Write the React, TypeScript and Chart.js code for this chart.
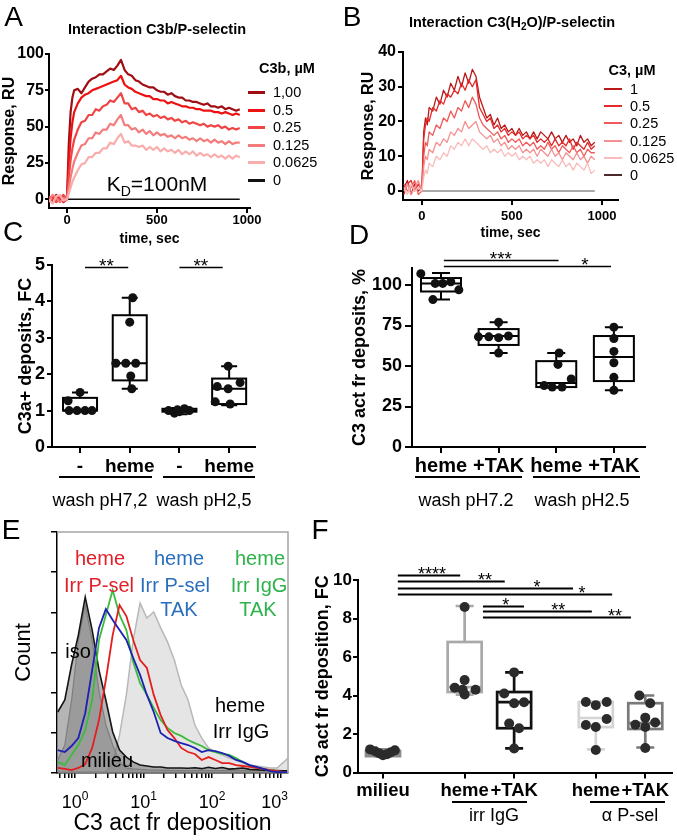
import React, { useEffect, useRef } from 'react';
import { Chart, registerables } from 'chart.js';

Chart.register(...registerables);

const FONT = '"Liberation Sans", Arial, Helvetica, sans-serif';
Chart.defaults.font.family = FONT;
Chart.defaults.color = '#000';

// ---------------- Panel A data (SPR, C3b) ----------------
const A_TIME = [-100, -80, -60, -40, -20, 0, 10, 20, 30, 40, 60, 80, 100, 120, 140, 160, 180, 200, 220, 240, 260, 280, 300, 320, 340, 360, 380, 400, 420, 440, 460, 480, 500, 520, 540, 560, 580, 600, 620, 640, 660, 680, 700, 720, 740, 760, 780, 800, 820, 840, 860, 880, 900, 920, 940, 960];
const A_LABELS = ['1,00', '0.5', '0.25', '0.125', '0.0625', '0'];
const A_C100 = [1, -2, 3, -1, 2, 0, 38, 60, 70, 75, 76, 73, 77, 81, 83, 84, 86, 86, 88, 90, 89, 92, 96, 89, 86, 85, 82, 81, 79, 78, 77, 77, 75, 74, 74, 72, 73, 71, 70, 70, 68, 68, 67, 67, 66, 65, 66, 64, 64, 63, 64, 62, 63, 62, 61, 62];
const A_C050 = [-1, 2, 0, 2, -2, 0, 25, 42, 53, 60, 66, 70, 72, 73, 75, 76, 77, 78, 79, 80, 81, 82, 85, 79, 77, 76, 74, 73, 72, 71, 71, 69, 69, 68, 68, 66, 67, 66, 65, 64, 64, 63, 63, 62, 62, 61, 61, 61, 60, 60, 59, 60, 59, 58, 59, 58];
const A_C025 = [2, 0, -2, 1, 3, 0, 15, 27, 35, 41, 48, 53, 54, 58, 58, 62, 61, 64, 65, 68, 67, 70, 73, 66, 66, 62, 63, 60, 61, 58, 59, 57, 58, 56, 57, 55, 56, 54, 55, 53, 54, 52, 53, 52, 51, 52, 50, 51, 50, 51, 49, 50, 48, 49, 48, 49];
const A_C0125 = [-2, 3, 1, -2, 1, 0, 8, 15, 21, 26, 32, 37, 38, 42, 42, 46, 45, 48, 48, 52, 51, 55, 58, 51, 51, 48, 49, 46, 48, 45, 47, 44, 46, 44, 45, 43, 44, 42, 44, 42, 43, 41, 42, 40, 42, 40, 41, 39, 41, 39, 40, 38, 40, 38, 39, 39];
const A_C0625 = [0, -3, 2, 3, -1, 0, 4, 8, 12, 15, 20, 24, 25, 29, 29, 32, 32, 35, 35, 39, 38, 42, 45, 39, 40, 37, 37, 36, 37, 34, 36, 34, 36, 33, 35, 33, 34, 32, 34, 31, 33, 31, 33, 30, 32, 30, 31, 29, 31, 29, 30, 28, 30, 28, 30, 29];
const A_ZERO_TIME = [0, 960];
const A_ZERO_VALUE = [0, 0];
const A_SERIES = [A_C100, A_C050, A_C025, A_C0125, A_C0625];
const A_COLORS = ['#a00d12', '#ee1111', '#f04545', '#f47c7c', '#f9adad', '#111111'];
const A_X_TICKS = [0, 500, 1000];
const A_Y_TICKS = [0, 25, 50, 75, 100];

// ---------------- Panel B data (SPR, C3(H2O)) ----------------
const B_TIME = [-100, -80, -60, -40, -20, 0, 10, 20, 30, 40, 60, 80, 100, 120, 140, 160, 180, 200, 220, 240, 260, 280, 300, 320, 340, 360, 380, 400, 420, 440, 460, 480, 500, 520, 540, 560, 580, 600, 620, 640, 660, 680, 700, 720, 740, 760, 780, 800, 820, 840, 860, 880, 900, 920, 940, 960];
const B_LABELS = ['1', '0.5', '0.25', '0.125', '0.0625', '0'];
const B_C1 = [1, 3, -1, 2, 0, 1, 17, 21, 19, 24, 23, 27, 25, 29, 27, 31, 29, 33, 30, 34, 31, 35, 33, 27, 24, 21, 22, 19, 21, 18, 19, 17, 18, 16, 18, 16, 17, 15, 17, 15, 17, 16, 15, 17, 15, 16, 14, 16, 14, 15, 13, 16, 14, 15, 13, 14];
const B_C05 = [-1, 2, 3, 0, 2, 0, 15, 19, 21, 20, 24, 23, 26, 25, 28, 27, 29, 28, 31, 29, 32, 30, 32, 24, 22, 20, 21, 18, 19, 17, 18, 16, 17, 16, 17, 15, 16, 15, 16, 14, 15, 14, 15, 13, 15, 13, 14, 13, 15, 12, 14, 13, 12, 14, 12, 13];
const B_C025 = [2, 0, 1, 3, -1, 0, 10, 14, 13, 17, 16, 19, 18, 21, 20, 23, 21, 24, 23, 26, 24, 27, 25, 21, 19, 18, 17, 16, 17, 15, 16, 14, 15, 14, 15, 13, 14, 13, 14, 12, 13, 12, 14, 12, 13, 11, 13, 12, 11, 13, 11, 12, 10, 12, 11, 11];
const B_C0125 = [0, 2, -1, 1, 3, 0, 7, 10, 9, 12, 11, 14, 13, 15, 14, 17, 16, 18, 17, 20, 18, 19, 20, 17, 16, 15, 16, 14, 15, 13, 14, 12, 13, 12, 13, 11, 12, 11, 12, 10, 12, 11, 10, 12, 10, 11, 9, 11, 10, 9, 11, 9, 10, 8, 10, 9];
const B_C00625 = [1, -1, 2, 0, 1, 0, 4, 6, 5, 8, 7, 10, 9, 11, 10, 13, 12, 14, 13, 15, 13, 15, 14, 13, 12, 13, 11, 12, 11, 12, 10, 11, 10, 11, 9, 10, 9, 10, 8, 9, 8, 9, 7, 9, 8, 7, 9, 7, 8, 6, 8, 7, 6, 8, 5, 6];
const B_ZERO_TIME = [0, 960];
const B_ZERO_VALUE = [0, 0];
const B_SERIES = [B_C1, B_C05, B_C025, B_C0125, B_C00625];
const B_COLORS = ['#b81a1a', '#e42a2a', '#ef5a5a', '#f49090', '#f9bcbc', '#a9a9a9'];
const B_LEGEND_COLORS = ['#b81a1a', '#e42a2a', '#ef5a5a', '#f49090', '#f9bcbc', '#4a2a2a'];
const B_X_TICKS = [0, 500, 1000];
const B_Y_TICKS = [0, 10, 20, 30, 40];

// ---------------- Panel C data (box plot) ----------------
const C_CATEGORIES = ['-', 'heme', '-', 'heme'];
const C_POS = [1, 2, 3, 4];
const C_VALUES = [
  [1.27, 1.5, 1.0, 1.0, 1.0, 1.0],
  [4.1, 3.43, 2.3, 2.3, 2.3, 1.95, 1.6],
  [1.0, 0.93, 0.97, 1.05, 1.0, 1.02],
  [2.22, 1.77, 1.66, 1.6, 1.24, 1.18],
];
const C_JITTER = [
  [-0.24, 0, -0.22, -0.06, 0.1, 0.24],
  [0.06, 0, -0.28, -0.08, 0.12, 0.02, 0.04],
  [-0.22, -0.1, 0, 0.1, 0.2, -0.04],
  [-0.02, 0.22, -0.24, -0.02, -0.28, 0.02],
];
// [min, q1, median, q3, max]
const C_BOXES = [
  [1.0, 1.0, 1.0, 1.35, 1.5],
  [1.6, 1.83, 2.3, 3.62, 4.1],
  [0.9, 0.97, 1.0, 1.05, 1.07],
  [1.15, 1.18, 1.6, 1.88, 2.22],
];
const C_Y_TICKS = [0, 1, 2, 3, 4, 5];
// [from, to, y, labelAt, text]
const C_SIG: [number, number, number, number, string][] = [
  [1.1, 1.97, 4.95, 1.53, '**'],
  [3.0, 3.87, 4.95, 3.43, '**'],
];

// ---------------- Panel D data (box plot) ----------------
const D_CATEGORIES = ['heme', '+TAK', 'heme', '+TAK'];
const D_POS = [1, 2, 3, 4];
const D_VALUES = [
  [107, 101, 101, 102, 97, 91],
  [77, 68, 68, 67.5, 68.5, 58],
  [58, 51, 42, 38, 37, 37],
  [74, 67, 59, 52, 43, 35],
];
const D_JITTER = [
  [-0.35, -0.1, 0.03, 0.17, 0.31, -0.14],
  [0, -0.35, -0.17, 0, 0.17, 0],
  [0.05, 0.03, 0.26, -0.21, -0.07, 0.1],
  [0, 0, 0, 0, 0, 0],
];
const D_BOXES = [
  [91, 96, 101, 104.3, 107.4],
  [58, 63, 68.5, 72.8, 77],
  [36.6, 37, 39.5, 53, 58],
  [35, 40.7, 55.6, 68.5, 74],
];
const D_Y_TICKS = [0, 25, 50, 75, 100];
const D_SIG: [number, number, number, number, string][] = [
  [1.05, 3.04, 115.4, 2.04, '***'],
  [1.05, 3.95, 111.7, 3.5, '*'],
];

// ---------------- Panel E data (flow histograms) ----------------
const E_X = [0.56, 0.71, 0.89, 1.12, 1.41, 1.78, 2.24, 2.82, 3.55, 4.47, 5.62, 7.08, 8.91, 11.2, 14.1, 17.8, 22.4, 28.2, 35.5, 44.7, 56.2, 70.8, 89.1, 112, 141, 178, 224, 282, 355, 447, 562, 708, 891, 1122, 1259];
const E_MILIEU = [25.3, 30.3, 44.8, 57.3, 73, 59.3, 42.7, 30.3, 17, 9.5, 6.6, 4.6, 3.3, 2.9, 2.5, 2.5, 2.1, 2.1, 2.1, 2, 2.2, 1.8, 2.4, 1.9, 2.3, 1.6, 1.8, 2.1, 1.5, 1.4, 1.2, 1.1, 1.0, 0.9, 0.9];
const E_ISO = [5.4, 11.6, 30, 55, 69.7, 55, 34, 20, 11.6, 4.6, 2, 1.7, 1.5, 1.3, 1.2, 1.2, 1.1, 1, 1, 1, 1, 1, 1, 1, 1, 1, 1, 1, 1, 1, 1, 1, 1, 1, 1];
const E_IGG = [0.4, 0.4, 0.4, 0.4, 0.4, 0.4, 0.4, 0.4, 4.1, 15.8, 32.4, 55.2, 70.5, 64.3, 66.8, 60.2, 54.4, 46.9, 36.5, 30.3, 19.9, 14.5, 10.4, 8.7, 7.5, 6.2, 5.4, 4.1, 3.3, 2.9, 2.5, 2.1, 2.1, 4.6, 6];
const E_RED = [2.1, 1.7, 1.2, 2.1, 3.7, 10.4, 22, 38.6, 57.3, 69.7, 65.1, 55.2, 46.9, 43.6, 32.4, 24, 17.8, 14.5, 10.4, 8.7, 7.9, 5.4, 6.6, 5.4, 4.1, 4.1, 3.3, 2.9, 2.5, 2.1, 1.7, 1.2, 0.8, 0.4, 0.4];
const E_BLUE = [9.5, 8.7, 11.2, 14.5, 24.9, 42.7, 60.2, 68, 63.5, 59.3, 55.2, 47.7, 40.7, 32.4, 25.3, 16.6, 14.5, 13.3, 12.4, 11.6, 10.4, 8.7, 9.5, 9.1, 8.3, 7.1, 5.4, 4.6, 3.3, 2.5, 1.7, 0.8, 0.4, 0.4, 0.4];
const E_GREEN = [4.6, 3.3, 7.5, 11.6, 17.8, 30.3, 55.2, 65.6, 75.9, 65.6, 59.3, 46, 37.3, 32.4, 27, 22, 18.7, 16.6, 15.4, 13.7, 12.4, 11.2, 9.5, 8.7, 7.9, 7.5, 6.2, 4.6, 2.9, 2.1, 1.7, 1.2, 0.8, 0.4, 0.4];
const E_DECADES = [0, 1, 2, 3];
const E_COUNT_TICKS = [0, 16.67, 33.33, 50, 66.67, 83.33, 100];

// ---------------- Panel F data (box plot) ----------------
const F_CATEGORIES = ['milieu', 'heme', '+TAK', 'heme', '+TAK'];
const F_POS = [0, 1.65, 2.65, 4.3, 5.3];
const F_VALUES = [
  [1.2, 1.1, 1.0, 0.9, 0.95, 1.05, 1.15],
  [8.6, 4.8, 4.4, 4.3, 4.3, 4.05],
  [5.2, 4.1, 3.6, 3.65, 2.55, 2.3, 1.25],
  [3.66, 3.5, 3.66, 2.78, 2.47, 2.36, 1.17],
  [4.0, 3.6, 2.85, 2.48, 2.6, 2.36, 1.27],
];
const F_JITTER = [
  [-0.26, -0.16, -0.08, 0, 0.08, 0.16, 0.24],
  [0, 0, -0.2, -0.04, 0.22, 0],
  [0, -0.2, 0, 0.2, -0.1, 0.1, 0],
  [-0.2, 0, 0.22, 0.22, -0.2, 0, 0],
  [-0.12, 0.1, 0, -0.2, 0.2, 0, 0],
];
const F_BOXES = [
  [0.85, 0.85, 0.95, 1.12, 1.2],
  [4.05, 4.18, 4.44, 6.78, 8.65],
  [1.25, 2.3, 3.66, 4.18, 5.2],
  [1.2, 2.36, 2.83, 3.66, 3.66],
  [1.3, 2.26, 2.57, 3.6, 4.0],
];
const F_Y_TICKS = [0, 2, 4, 6, 8, 10];
const F_SIG: [number, number, number, number, string][] = [
  [0.3, 1.56, 10.26, 0.99, '****'],
  [0.3, 2.46, 9.95, 2.06, '**'],
  [0.3, 3.84, 9.58, 3.11, '*'],
  [0.3, 4.63, 9.27, 4.02, '*'],
  [2.02, 2.85, 8.65, 2.48, '*'],
  [2.02, 4.22, 8.39, 3.54, '**'],
  [2.02, 5.01, 8.08, 4.69, '**'],
];

// ---------------- helpers ----------------
const font = (size: number, bold = false) => ({ family: FONT, size, weight: bold ? 'bold' : 'normal', lineHeight: 1.2 });
const fixWidth = (w: number) => (s: any) => { s.width = w; };
const fixHeight = (h: number) => (s: any) => { s.height = h; };
const useTicks = (vals: number[]) => (s: any) => { s.ticks = vals.map((v) => ({ value: v })); };

const baseOptions = (padding: any) => ({
  responsive: false,
  animation: false,
  devicePixelRatio: 1,
  events: [],
  layout: { padding },
  plugins: { legend: { display: false }, tooltip: { enabled: false }, title: { display: false } },
});

const axisStyle = (tickLen: number, lw: number, color = '#000') => ({
  border: { display: true, color, width: lw },
  grid: { display: true, drawOnChartArea: false, drawTicks: true, tickLength: tickLen, color, lineWidth: lw },
});

function ChartCanvas({ left, top, width, height, make }: { left: number; top: number; width: number; height: number; make: () => any }) {
  const ref = useRef<HTMLCanvasElement>(null);
  useEffect(() => {
    const chart = new Chart(ref.current as HTMLCanvasElement, make());
    return () => chart.destroy();
  }, []);
  return <canvas ref={ref} width={width} height={height} style={{ position: 'absolute', left, top, width, height }} />;
}

function T({ x, y, size, bold, color = '#000', align = 'center', children }: any) {
  return (
    <div
      style={{
        position: 'absolute', left: x, top: y,
        transform: align === 'center' ? 'translate(-50%,-50%)' : 'translate(0,-50%)',
        fontFamily: FONT, fontSize: size, fontWeight: bold ? 'bold' : 'normal', color,
        lineHeight: 1, whiteSpace: 'nowrap',
      }}
    >
      {children}
    </div>
  );
}

function HLine({ x1, x2, y, w = 2, color = '#000' }: any) {
  return <div style={{ position: 'absolute', left: x1, top: Math.round(y - w / 2), width: x2 - x1, height: w, background: color }} />;
}

// ---------------- SPR line charts ----------------
function makeSpr(opts: any) {
  const { time, series, colors, zeroTime, zeroValue, lw, zeroLw, xMin, xMax, yMin, yMax, xTicks, yTicks, padding, yWidth, xHeight, xTickPad, yTickPad, yTickLen } = opts;
  const datasets: any[] = series.map((vals: number[], i: number) => ({
    data: time.map((t: number, j: number) => ({ x: t, y: vals[j] })),
    borderColor: colors[i], borderWidth: lw, pointRadius: 0, fill: false, tension: 0, borderJoinStyle: 'round',
  }));
  datasets.reverse();
  datasets.push({
    data: zeroTime.map((t: number, j: number) => ({ x: t, y: zeroValue[j] })),
    borderColor: colors[colors.length - 1], borderWidth: zeroLw, pointRadius: 0, fill: false,
  });
  return {
    type: 'line',
    data: { datasets },
    options: {
      ...baseOptions(padding),
      scales: {
        x: {
          type: 'linear', min: xMin, max: xMax,
          afterBuildTicks: useTicks(xTicks), afterFit: fixHeight(xHeight),
          ...axisStyle(5, 2),
          ticks: { color: '#000', font: font(13, true), padding: xTickPad, maxRotation: 0, autoSkip: false, callback: (v: any) => String(v) },
          title: { display: true, text: 'time, sec', color: '#000', font: font(14, true), padding: 0 },
        },
        y: {
          type: 'linear', min: yMin, max: yMax,
          afterBuildTicks: useTicks(yTicks), afterFit: fixWidth(yWidth),
          ...axisStyle(yTickLen, 2),
          ticks: { color: '#000', font: font(16, true), padding: yTickPad, callback: (v: any) => String(v) },
          title: { display: true, text: 'Response, RU', color: '#000', font: font(16, true), padding: 0 },
        },
      },
    },
  };
}

// ---------------- box plot charts ----------------
function boxPlugin(boxes: number[][], pos: number[], colors: string[], boxW: number, capW: number, lw: number) {
  return {
    id: 'boxes',
    beforeDatasetsDraw(chart: any) {
      const { ctx, scales } = chart;
      const x = scales.x, y = scales.y;
      ctx.save();
      ctx.lineWidth = lw;
      boxes.forEach((b, i) => {
        const cx = x.getPixelForValue(pos[i]);
        const [mn, q1, md, q3, mx] = b.map((v) => y.getPixelForValue(v));
        ctx.strokeStyle = colors[i];
        ctx.beginPath();
        ctx.moveTo(cx, mx); ctx.lineTo(cx, q3);
        ctx.moveTo(cx, q1); ctx.lineTo(cx, mn);
        ctx.moveTo(cx - capW / 2, mx); ctx.lineTo(cx + capW / 2, mx);
        ctx.moveTo(cx - capW / 2, mn); ctx.lineTo(cx + capW / 2, mn);
        ctx.moveTo(cx - boxW / 2, md); ctx.lineTo(cx + boxW / 2, md);
        ctx.stroke();
        ctx.strokeRect(cx - boxW / 2, q3, boxW, q1 - q3);
      });
      ctx.restore();
    },
  };
}

function sigPlugin(sig: [number, number, number, number, string][], lw: number, size: number) {
  return {
    id: 'sig',
    afterDraw(chart: any) {
      const { ctx, scales } = chart;
      const x = scales.x, y = scales.y;
      ctx.save();
      ctx.strokeStyle = '#000';
      ctx.fillStyle = '#000';
      ctx.lineWidth = lw;
      ctx.font = `${size}px ${FONT}`;
      ctx.textAlign = 'center';
      ctx.textBaseline = 'alphabetic';
      sig.forEach(([from, to, yv, at, text]) => {
        const py = Math.round(y.getPixelForValue(yv)) + 0.5;
        ctx.beginPath();
        ctx.moveTo(x.getPixelForValue(from), py);
        ctx.lineTo(x.getPixelForValue(to), py);
        ctx.stroke();
        ctx.fillText(text, x.getPixelForValue(at), py - 6 + 0.57 * size);
      });
      ctx.restore();
    },
  };
}

function makeBox(o: any) {
  const datasets = o.values.map((vals: number[], i: number) => ({
    data: vals.map((v, j) => ({ x: o.pos[i] + o.jitter[i][j], y: v })),
    pointRadius: o.pointRadius, pointBackgroundColor: o.pointColor, pointBorderWidth: 0, showLine: false,
  }));
  return {
    type: 'scatter',
    data: { datasets },
    options: {
      ...baseOptions(o.padding),
      scales: {
        x: {
          type: 'linear', min: o.xMin, max: o.xMax,
          afterBuildTicks: useTicks(o.pos), afterFit: fixHeight(o.xHeight),
          ...axisStyle(6, o.axisLw),
          ticks: { color: '#000', font: font(o.xFont, true), padding: o.xPad, maxRotation: 0, minRotation: 0, autoSkip: false, callback: (_v: any, i: number) => o.categories[i] },
        },
        y: {
          type: 'linear', min: o.yMin, max: o.yMax,
          afterBuildTicks: useTicks(o.yTicks), afterFit: fixWidth(o.yWidth),
          ...axisStyle(o.yTickLen, o.axisLw),
          ticks: { color: '#000', font: font(o.yFont, true), padding: o.yPad, callback: (v: any) => String(v) },
          title: { display: true, text: o.yTitle, color: '#000', font: font(o.yTitleFont, true), padding: 0 },
        },
      },
    },
    plugins: [boxPlugin(o.boxes, o.pos, o.boxColors, o.boxW, o.capW, o.boxLw), sigPlugin(o.sig, o.sigLw, o.sigFont)],
  };
}

// ---------------- histogram chart ----------------
function makeHistogram() {
  const mk = (vals: number[], border: string, width: number, bg: string | null) => ({
    data: E_X.map((x, j) => ({ x, y: vals[j] })),
    borderColor: border, borderWidth: width, pointRadius: 0, tension: 0,
    fill: bg ? 'origin' : false, backgroundColor: bg || 'transparent',
  });
  const datasets = [
    mk(E_BLUE, '#1c22b0', 1.8, null),
    mk(E_RED, '#e41e1e', 1.8, null),
    mk(E_GREEN, '#3dbb3d', 1.8, null),
    mk(E_MILIEU, '#151515', 1.6, 'rgba(90,90,90,0.45)'),
    mk(E_ISO, '#9a9a9a', 1.2, 'rgba(150,150,150,0.45)'),
    mk(E_IGG, '#b8b8b8', 1.5, 'rgba(212,212,212,0.6)'),
  ];
  const framePlugin = {
    id: 'frame',
    afterDraw(chart: any) {
      const { ctx, chartArea: a, scales } = chart;
      ctx.save();
      ctx.strokeStyle = '#a5a5a5';
      ctx.lineWidth = 1.5;
      ctx.beginPath();
      ctx.moveTo(a.left, a.top); ctx.lineTo(a.right, a.top); ctx.lineTo(a.right, a.bottom);
      ctx.stroke();
      // decade labels 10^k
      const x = scales.x;
      ctx.fillStyle = '#000';
      ctx.textBaseline = 'alphabetic';
      ctx.textAlign = 'left';
      E_DECADES.forEach((k) => {
        ctx.font = `18px ${FONT}`;
        const wb = ctx.measureText('10').width;
        ctx.font = `12px ${FONT}`;
        const we = ctx.measureText(String(k)).width;
        const w = wb + we;
        let cx = x.getPixelForValue(Math.pow(10, k));
        if (cx + w / 2 > a.right) cx = a.right - w / 2;
        const left = cx - w / 2;
        ctx.font = `18px ${FONT}`;
        ctx.fillText('10', left, a.bottom + 35);
        ctx.font = `12px ${FONT}`;
        ctx.fillText(String(k), left + wb, a.bottom + 27);
      });
      ctx.restore();
    },
  };
  return {
    type: 'line',
    data: { datasets },
    options: {
      ...baseOptions({ left: 11, top: 32, right: 12, bottom: 0 }),
      scales: {
        x: {
          type: 'logarithmic', min: 0.546, max: 1286,
          afterBuildTicks: (s: any) => {
            const t: any[] = [];
            for (let e = -1; e <= 3; e++) {
              for (let m = 1; m <= 9; m++) {
                const v = m * Math.pow(10, e);
                if (v >= 0.546 && v <= 1286) t.push({ value: v });
              }
            }
            s.ticks = t;
          },
          afterFit: fixHeight(67),
          ...axisStyle(5, 1.5),
          ticks: { display: false },
          title: { display: true, text: 'C3 act fr deposition', color: '#000', font: font(23), padding: { top: 0, bottom: 3 } },
        },
        y: {
          type: 'linear', min: 0, max: 100,
          afterBuildTicks: useTicks(E_COUNT_TICKS), afterFit: fixWidth(46),
          ...axisStyle(6, 1.5),
          ticks: { display: false },
          title: { display: true, text: 'Count', color: '#000', font: font(22), padding: 0 },
        },
      },
    },
    plugins: [framePlugin],
  };
}

// ---------------- app ----------------
export default function App() {
  const makeA = () => makeSpr({
    time: A_TIME, series: A_SERIES, colors: A_COLORS, zeroTime: A_ZERO_TIME, zeroValue: A_ZERO_VALUE,
    lw: 2.2, zeroLw: 1.5, xMin: -100, xMax: 1017, yMin: -6, yMax: 100, xTicks: A_X_TICKS, yTicks: A_Y_TICKS,
    padding: { left: 0, top: 54, right: 85, bottom: 0 }, yWidth: 49, xHeight: 40, xTickPad: 0, yTickPad: 1, yTickLen: 4,
  });
  const makeB = () => makeSpr({
    time: B_TIME, series: B_SERIES, colors: B_COLORS, zeroTime: B_ZERO_TIME, zeroValue: B_ZERO_VALUE,
    lw: 1.3, zeroLw: 2, xMin: -105, xMax: 1089, yMin: -2.6, yMax: 40, xTicks: B_X_TICKS, yTicks: B_Y_TICKS,
    padding: { left: 24, top: 52, right: 59, bottom: 0 }, yWidth: 44, xHeight: 42, xTickPad: 4, yTickPad: 2, yTickLen: 5,
  });
  const makeC = () => makeBox({
    values: C_VALUES, jitter: C_JITTER, pos: C_POS, boxes: C_BOXES, categories: C_CATEGORIES,
    boxColors: ['#000', '#000', '#000', '#000'], pointColor: '#111', pointRadius: 4.5,
    xMin: 0.436, xMax: 4.52, yMin: 0, yMax: 5, yTicks: C_Y_TICKS,
    padding: { left: 15, top: 20, right: 80, bottom: 0 }, yWidth: 37, xHeight: 73,
    xFont: 19, xPad: 2, yFont: 18, yPad: 2, yTickLen: 5, axisLw: 2,
    yTitle: 'C3a+ deposits, FC', yTitleFont: 18,
    boxW: 34, capW: 16, boxLw: 2, sig: C_SIG, sigLw: 1.5, sigFont: 19,
  });
  const makeD = () => makeBox({
    values: D_VALUES, jitter: D_JITTER, pos: D_POS, boxes: D_BOXES, categories: D_CATEGORIES,
    boxColors: ['#000', '#000', '#000', '#000'], pointColor: '#111', pointRadius: 4.5,
    xMin: 0.497, xMax: 4.54, yMin: 0, yMax: 110.5, yTicks: D_Y_TICKS,
    padding: { left: 14, top: 23, right: 32, bottom: 0 }, yWidth: 63, xHeight: 73,
    xFont: 20, xPad: 1, yFont: 18, yPad: 3, yTickLen: 7, axisLw: 2,
    yTitle: 'C3 act fr deposits, %', yTitleFont: 18,
    boxW: 40, capW: 18, boxLw: 2, sig: D_SIG, sigLw: 1.5, sigFont: 19,
  });
  const makeF = () => makeBox({
    values: F_VALUES, jitter: F_JITTER, pos: F_POS, boxes: F_BOXES, categories: F_CATEGORIES,
    boxColors: ['#8a8a8a', '#a9a9a9', '#111', '#d4d4d4', '#7a7a7a'], pointColor: '#2b2b2b', pointRadius: 5,
    xMin: -0.505, xMax: 5.84, yMin: 0, yMax: 10, yTicks: F_Y_TICKS,
    padding: { left: 12, top: 80, right: 5, bottom: 0 }, yWidth: 46, xHeight: 67.5,
    xFont: 18.5, xPad: 1, yFont: 17, yPad: 1, yTickLen: 5, axisLw: 2,
    yTitle: 'C3 act fr deposition, FC', yTitleFont: 18,
    boxW: 34, capW: 18, boxLw: 2.7, sig: F_SIG, sigLw: 2, sigFont: 18,
  });

  return (
    <div style={{ position: 'absolute', left: 0, top: 0, width: 677, height: 840, background: '#fff', overflow: 'hidden' }}>
      <ChartCanvas left={0} top={0} width={335} height={248} make={makeA} />
      <ChartCanvas left={335} top={0} width={342} height={242} make={makeB} />
      <ChartCanvas left={0} top={245} width={335} height={275} make={makeC} />
      <ChartCanvas left={335} top={245} width={342} height={275} make={makeD} />
      <ChartCanvas left={0} top={500} width={300} height={340} make={makeHistogram} />
      <ChartCanvas left={300} top={500} width={377} height={340} make={makeF} />

      {/* Panel A overlay */}
      <T x={13.5} y={16.5} size={28}>A</T>
      <T x={157} y={29} size={14.5} bold>Interaction C3b/P-selectin</T>
      <T x={287} y={68} size={14.5} bold>C3b, µM</T>
      {A_LABELS.map((l, i) => (
        <React.Fragment key={'a' + i}>
          <HLine x1={248} x2={265} y={Math.round(92 + i * 17.6)} w={3} color={A_COLORS[i]} />
          <T x={273} y={Math.round(92 + i * 17.6)} size={14.5} align="left">{l}</T>
        </React.Fragment>
      ))}
      <T x={157} y={183} size={21}>
        K<span style={{ fontSize: 14, position: 'relative', top: 5 }}>D</span>=100nM
      </T>

      {/* Panel B overlay */}
      <T x={352} y={17} size={28}>B</T>
      <T x={512} y={22} size={14.5} bold>
        Interaction C3(H<span style={{ fontSize: 10, position: 'relative', top: 3 }}>2</span>O)/P-selectin
      </T>
      <T x={632} y={70} size={14.5} bold>C3, µM</T>
      {B_LABELS.map((l, i) => (
        <React.Fragment key={'b' + i}>
          <HLine x1={604} x2={622} y={Math.round(89 + i * 17.2)} w={2} color={B_LEGEND_COLORS[i]} />
          <T x={630} y={Math.round(89 + i * 17.2)} size={14.5} align="left">{l}</T>
        </React.Fragment>
      ))}

      {/* Panel C overlay */}
      <T x={13} y={232} size={28}>C</T>
      <HLine x1={59} x2={152} y={477} w={2} />
      <HLine x1={163} x2={255} y={477} w={2} />
      <T x={100} y={500} size={18}>wash pH7,2</T>
      <T x={204} y={500} size={18}>wash pH2,5</T>

      {/* Panel D overlay */}
      <T x={359} y={235} size={28}>D</T>
      <HLine x1={415} x2={522} y={477} w={2} />
      <HLine x1={533} x2={640} y={477} w={2} />
      <T x={466} y={500} size={18}>wash pH7.2</T>
      <T x={582} y={500} size={18}>wash pH2.5</T>

      {/* Panel E overlay */}
      <T x={11} y={530} size={28}>E</T>
      <T x={100} y={558} size={20} color="#e0202a">heme</T>
      <T x={99} y={585} size={20} color="#e0202a">Irr P-sel</T>
      <T x={179} y={558} size={20} color="#2a6fbd">heme</T>
      <T x={175} y={585} size={20} color="#2a6fbd">Irr P-sel</T>
      <T x={179} y={609} size={20} color="#2a6fbd">TAK</T>
      <T x={260} y={558} size={20} color="#2eb24b">heme</T>
      <T x={259} y={585} size={20} color="#2eb24b">Irr IgG</T>
      <T x={258} y={609} size={20} color="#2eb24b">TAK</T>
      <T x={78} y={651} size={20}>iso</T>
      <T x={107} y={760} size={20}>milieu</T>
      <T x={240} y={705} size={20}>heme</T>
      <T x={241} y={731} size={20}>Irr IgG</T>

      {/* Panel F overlay */}
      <T x={320} y={530} size={28}>F</T>
      <HLine x1={452} x2={527} y={802} w={2} />
      <HLine x1={590} x2={665} y={802} w={2} />
      <T x={494} y={815} size={18}>irr IgG</T>
      <T x={630} y={815} size={18}>α P-sel</T>
    </div>
  );
}
